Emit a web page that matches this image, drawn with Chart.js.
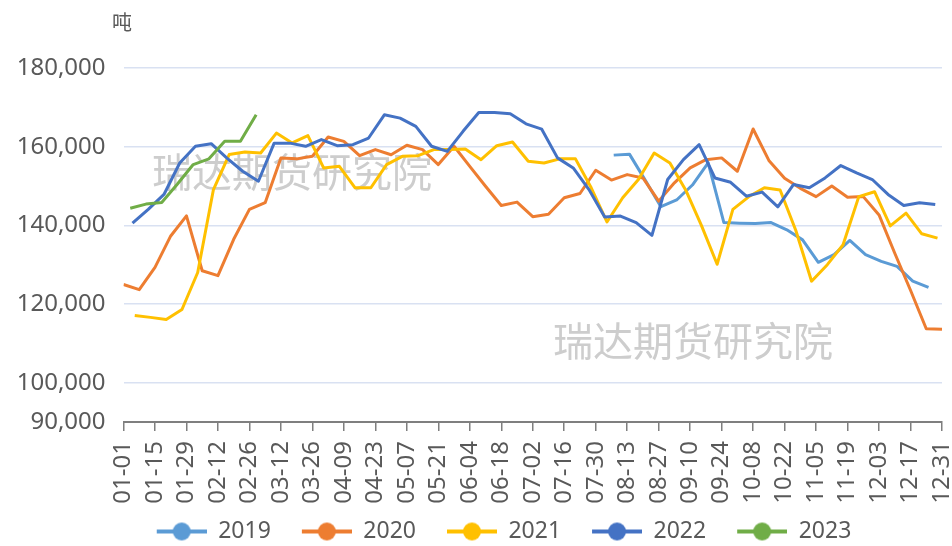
<!DOCTYPE html>
<html>
<head>
<meta charset="utf-8">
<script src="https://cdn.jsdelivr.net/npm/chart.js@4/dist/chart.umd.min.js"></script>
<style>
html,body{margin:0;padding:0;background:#fff;}
#wrap{position:relative;width:952px;height:546px;}
</style>
</head>
<body>
<div id="wrap"><canvas id="c" width="952" height="546"></canvas></div>
<script>
// ---- data ----
const xTickLabels = ['01-01','01-15','01-29','02-12','02-26','03-12','03-26','04-09','04-23','05-07','05-21','06-04','06-18','07-02','07-16','07-30','08-13','08-27','09-10','09-24','10-08','10-22','11-05','11-19','12-03','12-17','12-31'];
const yTickValues = [90000,100000,120000,140000,160000,180000];
const seriesNames = ['2019','2020','2021','2022','2023'];
const firstDates = ['08-07','01-01','01-06','01-05','01-04']; // first weekly observation of each year
const values2019 = [157850,158100,151500,144750,146450,150250,155900,140700,140550,140450,140700,138850,136300,130600,132550,136150,132550,130850,129550,125800,124250];
const values2020 = [124950,123650,129300,137300,142400,128450,127200,136450,144050,145750,157100,156900,157550,162450,161350,157700,159250,157950,160350,159250,155450,160100,155000,149950,145050,145900,142200,142800,147000,148100,154000,151500,152900,152050,146150,150800,154600,156700,157150,153750,164500,156500,152000,149400,147300,150000,147150,147300,142650,132900,123500,113700,113550];
const values2021 = [117100,116600,116050,118600,128000,149100,158000,158650,158400,163450,160950,162800,154600,155000,149550,149550,155450,157550,157700,159250,159250,159400,156700,160250,161200,156300,155850,156900,156900,149550,140850,147000,151650,158400,155850,149000,140000,130100,144050,147250,149550,149000,138700,125800,130000,135050,147300,148550,139850,143100,137850,136750];
const values2022 = [140550,144050,147850,155850,160100,160750,157100,153750,151200,160900,160900,160100,161800,160250,160500,162200,168100,167250,165150,160100,158800,163900,168700,168700,168350,165800,164450,157150,154600,149100,142100,142350,140700,137450,151650,156700,160500,152050,150950,147400,148450,144700,150400,149550,152050,155200,153350,151650,147850,145050,145750,145300];
const values2023 = [144350,145400,145800,150500,155450,156900,161350,161350,168100];
const seriesValues = [values2019, values2020, values2021, values2022, values2023];
const seriesColors = ['#5B9BD5','#ED7D31','#FFC000','#4472C4','#70AD47'];
const unitLabel = '吨';
const watermarkText = '瑞达期货研究院';

// ---- helpers ----
function dayIndex(mmdd){
  const [m,d] = mmdd.split('-').map(Number);
  return Math.round((Date.UTC(2023,m-1,d) - Date.UTC(2023,0,1)) / 86400000);
}
function makeIcon(color){
  const c = document.createElement('canvas');
  c.width = 81; c.height = 20;
  const g = c.getContext('2d');
  g.strokeStyle = color; g.lineWidth = 4;
  g.beginPath(); g.moveTo(31,10); g.lineTo(81,10); g.stroke();
  g.fillStyle = color;
  g.beginPath(); g.arc(56,10,9,0,Math.PI*2); g.fill();
  return c;
}
const icons = seriesColors.map(makeIcon);

const datasets = seriesNames.map((name,i)=>{
  const start = dayIndex(firstDates[i]);
  return {
    label: name,
    data: seriesValues[i].map((v,k)=>({x: start + 7*k, y: v})),
    borderColor: seriesColors[i],
    backgroundColor: seriesColors[i],
    borderWidth: 3,
    pointRadius: 0,
    pointHoverRadius: 0,
    tension: 0,
    fill: false,
    borderJoinStyle: 'round',
    order: seriesNames.length - i
  };
});

const textPlugin = {
  id: 'textPlugin',
  beforeLayout(chart){
    const lg = chart.legend;
    if (lg && !lg._patched){
      const f = lg.fit;
      lg.fit = function(){ f.call(this); this.height = 26; };
      const d = lg.draw;
      lg.draw = function(){ const ctx = this.ctx; ctx.save(); ctx.translate(9,0); d.call(this); ctx.restore(); };
      lg._patched = true;
    }
  },
  beforeDatasetsDraw(chart){
    const ctx = chart.ctx;
    ctx.save();
    ctx.font = '40px "Noto Sans CJK SC"';
    ctx.fillStyle = '#cdcdcd';
    ctx.textAlign = 'left';
    ctx.textBaseline = 'middle';
    ctx.fillText(watermarkText, 152, 172);
    ctx.fillText(watermarkText, 553, 341);
    ctx.restore();
  },
  afterDraw(chart){
    const ctx = chart.ctx;
    ctx.save();
    ctx.font = '20px "Noto Sans CJK SC"';
    ctx.fillStyle = '#595959';
    ctx.textAlign = 'center';
    ctx.textBaseline = 'middle';
    ctx.fillText(unitLabel, 122, 22);
    ctx.restore();
  }
};

Chart.defaults.font.family = '"Noto Sans", "Noto Sans CJK SC", sans-serif';
Chart.defaults.color = '#595959';

new Chart(document.getElementById('c'), {
  type: 'line',
  data: { datasets },
  options: {
    responsive: false,
    devicePixelRatio: 1,
    animation: false,
    layout: { padding: { top: 68, left: 17, right: 10, bottom: 0 } },
    plugins: {
      tooltip: { enabled: false },
      legend: {
        position: 'bottom',
        labels: {
          usePointStyle: true,
          pointStyleWidth: 81,
          boxHeight: 20,
          padding: 0,
          font: { size: 23 },
          color: '#595959',
          generateLabels: (chart) => chart.data.datasets.map((ds,i)=>({
            text: ds.label, fillStyle: ds.borderColor, strokeStyle: ds.borderColor,
            lineWidth: 0, pointStyle: icons[i], datasetIndex: i, hidden: false, fontColor: '#595959'
          })),
          sort: (a,b) => a.datasetIndex - b.datasetIndex
        }
      }
    },
    scales: {
      x: {
        type: 'linear',
        min: 0, max: 364,
        afterBuildTicks: (s) => { s.ticks = xTickLabels.map((l,i)=>({value: i*14})); },
        afterFit: (s) => { s.height = 98; s.paddingLeft = 0; s.paddingRight = 0; },
        ticks: {
          autoSkip: false, maxRotation: 90, minRotation: 90, padding: 10,
          font: { size: 24 }, color: '#595959',
          callback: (v, i) => xTickLabels[i]
        },
        grid: { drawOnChartArea: false, drawTicks: true, tickLength: 9, color: '#7f7f7f', lineWidth: 1.5 },
        border: { display: true, color: '#7f7f7f', width: 2 }
      },
      y: {
        min: 90000, max: 180000,
        afterBuildTicks: (s) => { s.ticks = yTickValues.map(v=>({value: v})); },
        afterFit: (s) => { s.width = 106.5; },
        ticks: {
          padding: 18, font: { size: 24 }, color: '#595959',
          callback: (v) => Number(v).toLocaleString('en-US')
        },
        grid: { color: '#d9e1f2', lineWidth: 1.5, drawTicks: false },
        border: { display: false }
      }
    }
  },
  plugins: [textPlugin]
});
</script>
</body>
</html>
